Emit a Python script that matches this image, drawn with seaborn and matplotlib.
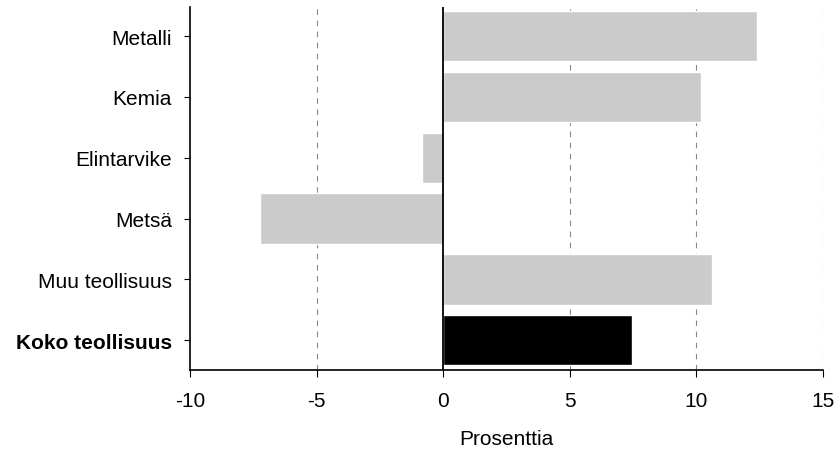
import matplotlib
matplotlib.use("Agg")
import matplotlib.pyplot as plt
import seaborn as sns
import pandas as pd

categories = ["Metalli", "Kemia", "Elintarvike", "Metsä", "Muu teollisuus", "Koko teollisuus"]
values = [12.4, 10.2, -0.85, -7.25, 10.6, 7.45]
colors = ["#cbcbcb", "#cbcbcb", "#cbcbcb", "#cbcbcb", "#cbcbcb", "#000000"]
xticks = [-10, -5, 0, 5, 10, 15]
xlabel = "Prosenttia"

sns.set_style("white")
plt.rcParams['font.family'] = ['Liberation Sans', 'DejaVu Sans']
plt.rcParams['text.color'] = 'black'
plt.rcParams['axes.labelcolor'] = 'black'
plt.rcParams['xtick.color'] = 'black'
plt.rcParams['ytick.color'] = 'black'

df = pd.DataFrame({"cat": categories, "val": values})

fig = plt.figure(figsize=(8.38, 4.52), dpi=100)
ax = fig.add_axes([190/838, 1-371/452, (823-190)/838, (371-8)/452])

for x in xticks[1:]:
    if x != 0:
        ax.axvline(x, color="#888888", linestyle=(0, (5, 5)), linewidth=0.8, zorder=0)

sns.barplot(data=df, x="val", y="cat", hue="cat", palette=colors, legend=False,
            orient="h", width=0.83, ax=ax, saturation=1, zorder=2)

ax.axvline(0, color="black", linewidth=1.3, zorder=3)

ax.set_xlim(-10, 15)
ax.set_ylim(5.49, -0.48)
ax.set_xticks(xticks)
ax.set_xticklabels([str(t) for t in xticks], fontsize=15)
ax.set_xlabel(xlabel, fontsize=15, labelpad=14)
ax.set_ylabel("")
ax.tick_params(axis="y", labelsize=15, length=4, width=0.8, pad=9, left=True)
ax.tick_params(axis="x", length=5, width=0.8, bottom=True, pad=10)
for lbl in ax.get_yticklabels():
    if lbl.get_text() == "Koko teollisuus":
        lbl.set_fontweight("bold")

for s in ["top", "right"]:
    ax.spines[s].set_visible(False)
for s in ["left", "bottom"]:
    ax.spines[s].set_color("black")
    ax.spines[s].set_linewidth(1.2)

fig.savefig("out.png", dpi=100)
